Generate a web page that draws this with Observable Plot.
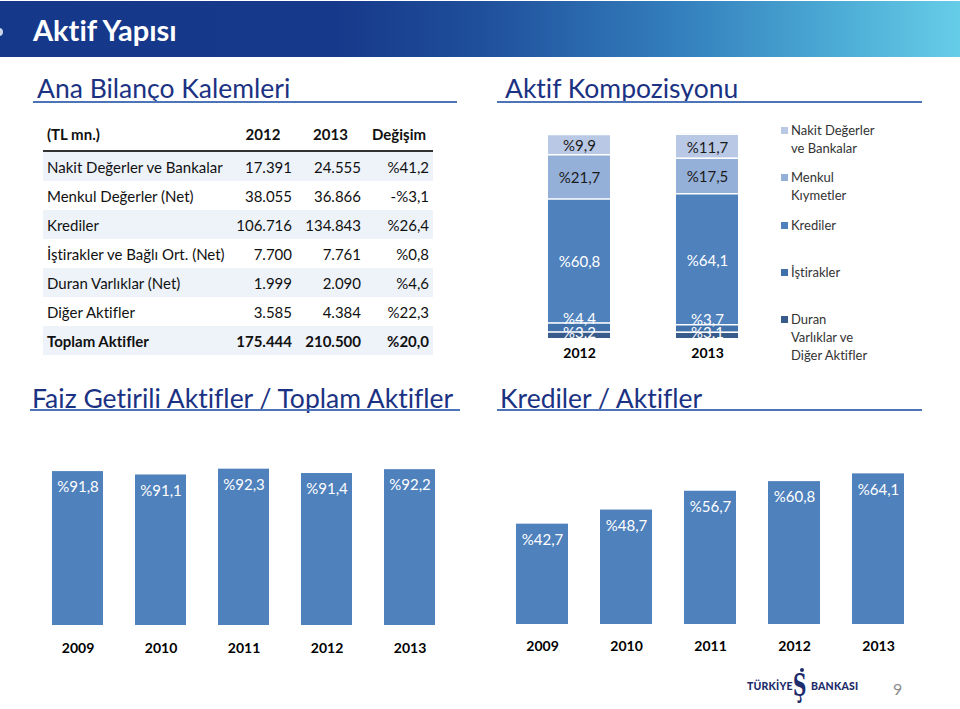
<!DOCTYPE html>
<html>
<head>
<meta charset="utf-8">
<script src="https://cdn.jsdelivr.net/npm/d3@7"></script>
<script src="https://cdn.jsdelivr.net/npm/@observablehq/plot@0.6"></script>
<style>
  body { margin: 0; background: #fff; font-family: Lato, "Open Sans", sans-serif; font-variant-ligatures: none; }
  #page { position: relative; width: 960px; height: 709px; overflow: hidden; background: #fff; }
  .abs { position: absolute; }
  svg text { font-variant-ligatures: none; }
  #header { left: 0; top: 1px; width: 960px; height: 56px;
    background: linear-gradient(90deg, #16388a 0%, #17398b 35%, #1f4f9b 50%, #3582bf 72%, #4aa8d3 86%, #66cde8 100%); }
  #header .t { position: absolute; left: 33px; top: 12px; line-height: 34px; color: #fff; font-weight: 700; font-size: 29px; }
  #header .dot { position: absolute; left: -5px; top: 27px; width: 8px; height: 8px; border-radius: 50%; background: #c9d3ea; }
  .sec { color: #1b3283; font-size: 26.5px; line-height: 30px; white-space: nowrap; }
  .rule { height: 2px; background: #4d74b9; }
  #tbl { left: 43px; top: 118px; border-collapse: collapse; table-layout: fixed; font-size: 15px; color: #111; }
  #tbl td, #tbl th { padding: 0 4px; height: 29px; white-space: nowrap; }
  #tbl th { height: 32px; font-weight: 700; border-bottom: 2px solid #333; }
  #tbl td.n { text-align: right; }
  #tbl tr.band td { background: #eef3fa; }
  #tbl tr.bold td { font-weight: 700; }
  .lg { font-size: 13px; line-height: 18px; color: #333; white-space: nowrap; }
  .lg .sw { position: absolute; left: -10px; top: 6px; width: 7px; height: 7px; }
  #logo { left: 747px; top: 668px; width: 120px; height: 40px; color: #1d2c6b; }
  #logo .w { position: absolute; top: 12px; font-size: 10.5px; font-weight: 900; letter-spacing: 0.2px; }
  #logo .s { position: absolute; left: 46px; top: 0px; font-family: "DejaVu Serif", serif; font-size: 31px; font-weight: 700; line-height: 34px; transform: scaleX(0.6); transform-origin: left top; }
  #logo .d { position: absolute; left: 53px; top: 0px; width: 4px; height: 4px; border-radius: 50%; background: #1d2c6b; }
  #pnum { left: 893px; top: 679px; font-size: 16px; color: #8c8c8c; }
</style>
</head>
<body>
<div id="page">
  <div id="header" class="abs"><div class="dot"></div><div class="t">Aktif Yapısı</div></div>
  <div class="abs sec" style="left:37px;top:73px;">Ana Bilanço Kalemleri</div>
  <div class="abs rule" style="left:33px;top:101px;width:424px;"></div>
  <div class="abs sec" style="left:505px;top:73px;">Aktif Kompozisyonu</div>
  <div class="abs rule" style="left:497px;top:101px;width:425px;"></div>
  <table id="tbl" class="abs"></table>
  <div id="comp" class="abs" style="left:500px;top:120px;"></div>
  <div id="legend" class="abs" style="left:791px;top:0px;"></div>
  <div class="abs sec" style="left:32px;top:383px;">Faiz Getirili Aktifler / Toplam Aktifler</div>
  <div class="abs rule" style="left:30px;top:409px;width:430px;"></div>
  <div class="abs sec" style="left:500px;top:383px;">Krediler / Aktifler</div>
  <div class="abs rule" style="left:497px;top:409px;width:425px;"></div>
  <div id="faiz" class="abs" style="left:20px;top:420px;"></div>
  <div id="kredi" class="abs" style="left:490px;top:420px;"></div>
  <div id="logo" class="abs">
    <div class="w" style="left:0;">TÜRKİYE</div>
    <div class="d"></div>
    <div class="s">Ş</div>
    <div class="w" style="left:64px;">BANKASI</div>
  </div>
  <div id="pnum" class="abs">9</div>
</div>
<script>
// ---------- Data ----------
const tableHeader = ["(TL mn.)", "2012", "2013", "Değişim"];
const tableRows = ["Nakit Değerler ve Bankalar", "Menkul Değerler (Net)", "Krediler",
  "İştirakler ve Bağlı Ort. (Net)", "Duran Varlıklar (Net)", "Diğer Aktifler", "Toplam Aktifler"];
const values2012 = [17391, 38055, 106716, 7700, 1999, 3585, 175444];
const values2013 = [24555, 36866, 134843, 7761, 2090, 4384, 210500];
const changes = [41.2, -3.1, 26.4, 0.8, 4.6, 22.3, 20.0];

const compYears = ["2012", "2013"];
const compCategories = ["Duran Varlıklar ve Diğer Aktifler", "İştirakler", "Krediler", "Menkul Kıymetler", "Nakit Değerler ve Bankalar"];
const comp2012 = [3.2, 4.4, 60.8, 21.7, 9.9];
const comp2013 = [3.1, 3.7, 64.1, 17.5, 11.7];
const compColors = ["#375b8b", "#4171ab", "#4f81bd", "#95b0d8", "#b9c8e4"];
const legendLines = [["Nakit Değerler", "ve Bankalar"], ["Menkul", "Kıymetler"], ["Krediler"], ["İştirakler"], ["Duran", "Varlıklar ve", "Diğer Aktifler"]];
const legendTops = [121, 168, 216, 263, 310];

const trendYears = ["2009", "2010", "2011", "2012", "2013"];
const faizRatio = [91.8, 91.1, 92.3, 91.4, 92.2];
const krediRatio = [42.7, 48.7, 56.7, 60.8, 64.1];
const faizAxis = [60, 100];
const krediAxis = [0, 80];
const barColor = "#4f81bd";

// ---------- Helpers ----------
const trLocale = d3.formatLocale({decimal: ",", thousands: ".", grouping: [3], currency: ["", ""]});
const fmtInt = trLocale.format(",d");
const fmtPct = v => (v < 0 ? "-%" : "%") + trLocale.format(".1f")(Math.abs(v));

// ---------- Table ----------
const tbl = d3.select("#tbl");
const colWidths = [187, 66, 69, 68];
tbl.append("colgroup").selectAll("col").data(colWidths).join("col").style("width", d => d + "px");
const hr = tbl.append("tr");
hr.selectAll("th").data(tableHeader).join("th")
  .style("text-align", (d, i) => i === 0 ? "left" : "center")
  .text(d => d);
tableRows.forEach((label, i) => {
  const tr = tbl.append("tr")
    .classed("band", i % 2 === 0)
    .classed("bold", i === tableRows.length - 1);
  tr.append("td").text(label);
  tr.append("td").attr("class", "n").text(fmtInt(values2012[i]));
  tr.append("td").attr("class", "n").text(fmtInt(values2013[i]));
  tr.append("td").attr("class", "n").text(fmtPct(changes[i]));
});

// ---------- Composition stacked bar ----------
const compData = [];
compYears.forEach((year, yi) => {
  const vals = yi === 0 ? comp2012 : comp2013;
  compCategories.forEach((cat, ci) => compData.push({year, category: cat, value: vals[ci]}));
});
const labelFor = cats => d => cats.includes(d.category) ? fmtPct(d.value) : "";
const stackOpts = extra => Plot.stackY({x: "year", y: "value", z: "category", ...extra});

const compPlot = Plot.plot({
  width: 260, height: 245,
  marginLeft: 48, marginRight: 22, marginTop: 14, marginBottom: 27,
  style: {fontFamily: "Lato, sans-serif", background: "transparent", overflow: "visible"},
  x: {domain: compYears, paddingInner: 0.516, paddingOuter: 0, axis: null},
  y: {domain: [0, 100], axis: null},
  color: {domain: compCategories, range: compColors},
  marks: [
    Plot.barY(compData, {x: "year", y: "value", z: "category", fill: "category"}),
    Plot.text(compData, stackOpts({text: labelFor([compCategories[3], compCategories[4]]), fill: "#1a1a1a", fontSize: 15, dy: 1.5})),
    Plot.text(compData, stackOpts({text: labelFor([compCategories[2]]), fill: "white", fontSize: 15, dy: 1.5})),
    Plot.text(compData, stackOpts({text: labelFor([compCategories[1]]), fill: "white", fontSize: 15, dy: -8})),
    Plot.text(compData, stackOpts({text: labelFor([compCategories[0]]), fill: "white", fontSize: 15, dy: -2})),
    Plot.tickY(compData, Plot.stackY2({x: "year", y: "value", z: "category", stroke: "white", strokeWidth: 1.5})),
    Plot.axisX({tickSize: 0, tickPadding: 10, fontSize: 14, fontWeight: "bold", color: "#000", label: null})
  ]
});
document.getElementById("comp").appendChild(compPlot);

// Legend (HTML)
const lg = d3.select("#legend");
const legendColors = compColors.slice().reverse();
legendLines.forEach((lines, i) => {
  const item = lg.append("div").attr("class", "abs lg").style("left", "0px").style("top", legendTops[i] + "px");
  item.append("div").attr("class", "sw").style("background", legendColors[i]);
  item.append("div").html(lines.join("<br>"));
});

// ---------- Trend bar charts ----------
function trendChart(values, domain, opts) {
  const data = trendYears.map((year, i) => ({year, value: values[i]}));
  return Plot.plot({
    width: 450, height: 245,
    marginLeft: opts.ml, marginRight: opts.mr, marginTop: opts.mt, marginBottom: opts.mb,
    style: {fontFamily: "Lato, sans-serif", background: "transparent", overflow: "visible"},
    x: {domain: trendYears, paddingInner: opts.pad, paddingOuter: 0, axis: null},
    y: {domain, axis: null},
    marks: [
      Plot.barY(data, {x: "year", y: "value", fill: barColor, clip: true}),
      Plot.text(data, {x: "year", y: "value", text: d => fmtPct(d.value), fill: "white", fontSize: 15, dy: 16}),
      Plot.axisX({tickSize: 0, tickPadding: opts.tp, fontSize: 14, fontWeight: "bold", color: "#000", label: null})
    ]
  });
}
document.getElementById("faiz").appendChild(trendChart(faizRatio, faizAxis, {ml: 30, mr: 34, mt: 11.4, mb: 40, pad: 0.391, tp: 18}));
document.getElementById("kredi").appendChild(trendChart(krediRatio, krediAxis, {ml: 25, mr: 36, mt: 16, mb: 41, pad: 0.383, tp: 17}));
</script>
</body>
</html>
